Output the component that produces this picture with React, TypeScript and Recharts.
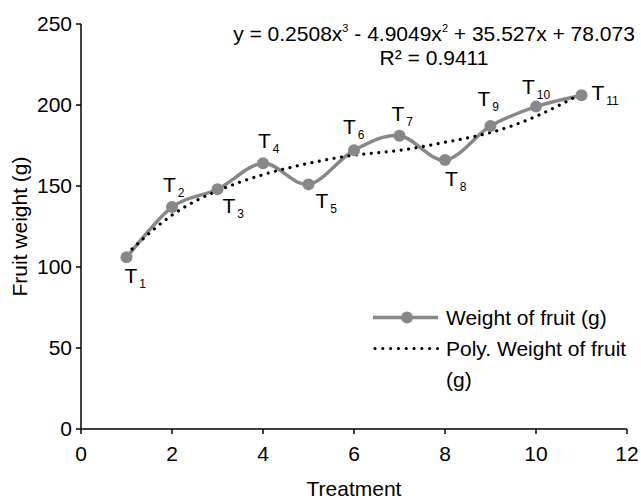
import React from 'react';
import { LineChart, Line, XAxis, YAxis, Legend } from 'recharts';

const xValues = [1, 2, 3, 4, 5, 6, 7, 8, 9, 10, 11];
const weights = [106, 137, 148, 164, 151, 172, 181, 166, 187, 199, 206];
const polyValues = [108, 132, 147, 157, 164, 169, 172, 177, 183, 193, 207];
const treatmentSubs = ['1', '2', '3', '4', '5', '6', '7', '8', '9', '10', '11'];
const xTicks = [0, 2, 4, 6, 8, 10, 12];
const yTicks = [0, 50, 100, 150, 200, 250];
const seriesOrder = ['weight', 'poly'];

// label placement relative to the point: [dx to left of "T", dy to baseline]
const labelPlacement = [
  [-2, 26], [-9, -15], [5, 24], [-5, -15], [7, 24], [-11, -16],
  [-8, -15], [0, 26], [-13, -20], [-14, -13], [10, 5],
];

const data = xValues.map((x, i) => ({
  x,
  weight: weights[i],
  poly: polyValues[i],
  sub: treatmentSubs[i],
}));

const FONT = '"Liberation Sans", Arial, Helvetica, sans-serif';
const GRAY = '#888888';

// Excel-like smoothed line (Catmull-Rom style Bezier)
const excelCurve = (context: any) => {
  let pts: number[][] = [];
  return {
    areaStart() {},
    areaEnd() {},
    lineStart() {
      pts = [];
    },
    point(x: number, y: number) {
      pts.push([+x, +y]);
    },
    lineEnd() {
      const n = pts.length;
      if (!n) return;
      context.moveTo(pts[0][0], pts[0][1]);
      for (let i = 0; i < n - 1; i++) {
        const p0 = pts[Math.max(i - 1, 0)];
        const p1 = pts[i];
        const p2 = pts[i + 1];
        const p3 = pts[Math.min(i + 2, n - 1)];
        const c1x = p1[0] + (p2[0] - p0[0]) / 6;
        const c1y = p1[1] + (p2[1] - p0[1]) / 6;
        const c2x = p2[0] - (p3[0] - p1[0]) / 6;
        const c2y = p2[1] - (p3[1] - p1[1]) / 6;
        context.bezierCurveTo(c1x, c1y, c2x, c2y, p2[0], p2[1]);
      }
    },
  };
};

const renderDot = (props: any) => {
  const { cx, cy, index, payload } = props;
  const pl = labelPlacement[index] || [0, 0];
  return (
    <g key={`dot-${index}`}>
      <circle cx={cx} cy={cy} r={6} fill={GRAY} stroke="none" />
      <text
        x={cx + pl[0]}
        y={cy + pl[1]}
        fontFamily={FONT}
        fontSize={21}
        fill="#000"
        textAnchor="start"
      >
        T
        <tspan fontSize={12} dx={2} dy={5} fill="#000">
          {payload.sub}
        </tspan>
      </text>
    </g>
  );
};

const renderLegend = (props: any) => {
  const items = [...(props.payload || [])].sort(
    (a: any, b: any) => seriesOrder.indexOf(a.dataKey) - seriesOrder.indexOf(b.dataKey)
  );
  return (
    <div style={{ fontFamily: FONT, fontSize: 21, color: '#000' }}>
      {items.map((entry: any) => {
        const isPoly = entry.dataKey === 'poly';
        return (
          <div
            key={entry.dataKey}
            style={{ display: 'flex', alignItems: 'flex-start', lineHeight: '31px' }}
          >
            <svg width={73} height={31} style={{ flex: 'none' }}>
              {isPoly ? (
                <line
                  x1={2}
                  y1={15.5}
                  x2={65}
                  y2={15.5}
                  stroke="#000"
                  strokeWidth={3.2}
                  strokeDasharray="0.01 7.8"
                  strokeLinecap="round"
                />
              ) : (
                <g>
                  <line x1={0} y1={15.5} x2={65} y2={15.5} stroke={GRAY} strokeWidth={3.5} />
                  <circle cx={34} cy={15.5} r={6} fill={GRAY} />
                </g>
              )}
            </svg>
            <div style={{ width: 190 }}>
              {isPoly ? (
                <>
                  Poly. Weight of fruit
                  <br />
                  (g)
                </>
              ) : (
                entry.value
              )}
            </div>
          </div>
        );
      })}
    </div>
  );
};

export default function App() {
  return (
    <div style={{ position: 'absolute', left: 0, top: 0, width: 641, height: 500, background: '#fff', fontFamily: FONT }}>
      <LineChart
        width={641}
        height={500}
        data={data}
        margin={{ top: 24, right: 14, left: 8, bottom: 0 }}
      >
        <XAxis
          dataKey="x"
          type="number"
          domain={[0, 12]}
          ticks={xTicks}
          height={71}
          axisLine={{ stroke: '#000', strokeWidth: 1.5 }}
          tickLine={{ stroke: '#000', strokeWidth: 1.5 }}
          tickSize={5}
          tickMargin={12}
          tick={{ fill: '#000', fontSize: 21, fontFamily: FONT }}
          label={{
            value: 'Treatment',
            position: 'insideBottom',
            offset: 4,
            style: { fill: '#000', fontSize: 21, fontFamily: FONT },
          }}
        />
        <YAxis
          type="number"
          domain={[0, 250]}
          ticks={yTicks}
          width={73}
          axisLine={{ stroke: '#000', strokeWidth: 1.5 }}
          tickLine={{ stroke: '#000', strokeWidth: 1.5 }}
          tickSize={5}
          tickMargin={4}
          tick={{ fill: '#000', fontSize: 21, fontFamily: FONT }}
          label={{
            value: 'Fruit weight (g)',
            angle: -90,
            position: 'insideLeft',
            offset: 12,
            style: { fill: '#000', fontSize: 21, fontFamily: FONT, textAnchor: 'middle' },
          }}
        />
        <Legend
          layout="vertical"
          align="center"
          verticalAlign="middle"
          content={renderLegend}
          wrapperStyle={{ left: 373, top: 302, width: 268, height: 100 }}
        />
        <Line
          dataKey="weight"
          name="Weight of fruit (g)"
          type={excelCurve as any}
          stroke={GRAY}
          strokeWidth={3.5}
          dot={renderDot}
          activeDot={false}
          isAnimationActive={false}
        />
        <Line
          dataKey="poly"
          name="Poly. Weight of fruit (g)"
          type="natural"
          stroke="#000"
          strokeWidth={3.2}
          strokeDasharray="0.01 7.5"
          strokeLinecap="round"
          dot={false}
          activeDot={false}
          isAnimationActive={false}
        />
      </LineChart>
      <svg
        width={641}
        height={80}
        style={{ position: 'absolute', left: 0, top: 0, pointerEvents: 'none' }}
      >
        <text x={434} y={41} textAnchor="middle" fontFamily={FONT} fontSize={21} fill="#000">
          y = 0.2508x
          <tspan fontSize={11} dy={-9}>3</tspan>
          <tspan dy={9}> - 4.9049x</tspan>
          <tspan fontSize={11} dy={-9}>2</tspan>
          <tspan dy={9}> + 35.527x + 78.073</tspan>
        </text>
        <text x={434} y={65} textAnchor="middle" fontFamily={FONT} fontSize={21} fill="#000">
          R² = 0.9411
        </text>
      </svg>
    </div>
  );
}
